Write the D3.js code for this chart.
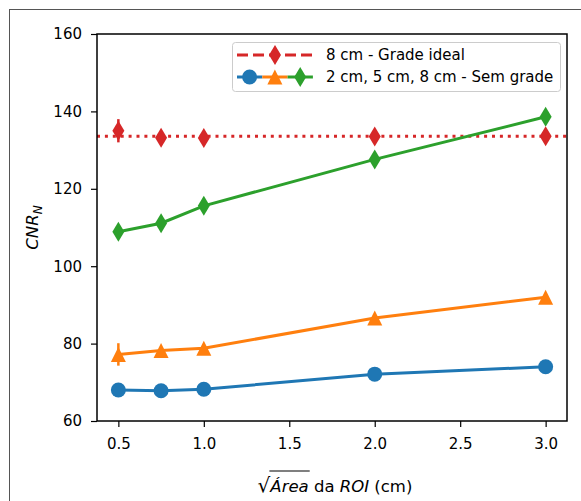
<!DOCTYPE html>
<html>
<head>
<meta charset="utf-8">
<script src="https://cdn.jsdelivr.net/npm/d3@7"></script>
<style>
body { margin: 0; background: #fff; }
text { font-family: "DejaVu Sans", sans-serif; }
</style>
</head>
<body>
<svg width="581" height="501"></svg>
<script>
// dados
var xVals = [0.5, 0.75, 1.0, 2.0, 3.0];
var semGrade2 = [68.0, 67.8, 68.2, 72.1, 74.0];
var semGrade5 = [77.2, 78.2, 78.8, 86.6, 92.0];
var semGrade8 = [108.9, 111.1, 115.6, 127.6, 138.6];
var gradeIdeal8 = [135.0, 133.2, 133.1, 133.5, 133.6];
var erroIdeal = [3.0, 0.8, 0.8, 0.8, 0.8];
var erro5 = [2.9, 0.6, 0.6, 0.6, 0.6];
var linhaIdeal = 133.6;
var xTicks = [0.5, 1.0, 1.5, 2.0, 2.5, 3.0];
var yTicks = [60, 80, 100, 120, 140, 160];
var legendaTextos = ["8 cm - Grade ideal", "2 cm, 5 cm, 8 cm - Sem grade"];

var azul = "#1f77b4", laranja = "#ff7f0e", verde = "#2ca02c", vermelho = "#d62728";

var svg = d3.select("svg"),
    margin = { top: 34, right: 14, bottom: 80, left: 97 },
    width = +svg.attr("width") - margin.left - margin.right,
    height = +svg.attr("height") - margin.top - margin.bottom;

// moldura externa (figura recortada)
svg.append("rect")
    .attr("x", 9.5).attr("y", 9.5)
    .attr("width", 700).attr("height", 700)
    .attr("fill", "none").attr("stroke", "#555").attr("stroke-width", 1);

var x = d3.scaleLinear().domain([0.375, 3.125]).range([0, width]),
    y = d3.scaleLinear().domain([60, 160]).range([height, 0]);

var g = svg.append("g")
    .attr("transform", "translate(" + margin.left + "," + margin.top + ")");

// marcadores
function losango(w, h) {
    return "M0," + (-h / 2) + "L" + (w / 2) + ",0L0," + (h / 2) + "L" + (-w / 2) + ",0Z";
}
function triangulo(s) {
    return "M0," + (-s / 2) + "L" + (s / 2) + "," + (s / 2) + "L" + (-s / 2) + "," + (s / 2) + "Z";
}

var linha = d3.line()
    .x(function (d) { return x(d[0]); })
    .y(function (d) { return y(d[1]); });

// linha pontilhada da grade ideal
g.append("line")
    .attr("x1", 0).attr("x2", width)
    .attr("y1", y(linhaIdeal)).attr("y2", y(linhaIdeal))
    .attr("stroke", vermelho).attr("stroke-width", 3)
    .attr("stroke-dasharray", "3,4.9");

var series = [
    { vals: semGrade2, cor: azul, tipo: "circulo", erro: null },
    { vals: semGrade5, cor: laranja, tipo: "triangulo", erro: erro5 },
    { vals: semGrade8, cor: verde, tipo: "losango", erro: null },
    { vals: gradeIdeal8, cor: vermelho, tipo: "losango", erro: erroIdeal, semLinha: true }
];

series.forEach(function (s) {
    var pts = xVals.map(function (xv, i) { return [xv, s.vals[i]]; });
    if (!s.semLinha) {
        g.append("path")
            .datum(pts)
            .attr("fill", "none")
            .attr("stroke", s.cor)
            .attr("stroke-width", 3)
            .attr("d", linha);
    }
    if (s.erro) {
        g.selectAll(null)
            .data(pts)
            .enter().append("line")
            .attr("x1", function (d) { return x(d[0]); })
            .attr("x2", function (d) { return x(d[0]); })
            .attr("y1", function (d, i) { return y(d[1] - s.erro[i]); })
            .attr("y2", function (d, i) { return y(d[1] + s.erro[i]); })
            .attr("stroke", s.cor).attr("stroke-width", 2.5);
    }
    var m = g.selectAll(null).data(pts).enter();
    if (s.tipo === "circulo") {
        m.append("circle")
            .attr("cx", function (d) { return x(d[0]); })
            .attr("cy", function (d) { return y(d[1]); })
            .attr("r", 7.5)
            .attr("fill", s.cor);
    } else {
        m.append("path")
            .attr("transform", function (d) { return "translate(" + x(d[0]) + "," + y(d[1]) + ")"; })
            .attr("d", s.tipo === "triangulo" ? triangulo(15) : losango(12, 20))
            .attr("fill", s.cor);
    }
});

// eixos
var eixoX = g.append("g")
    .attr("transform", "translate(0," + height + ")")
    .call(d3.axisBottom(x).tickValues(xTicks).tickFormat(d3.format(".1f")).tickSize(6).tickPadding(11));
var eixoY = g.append("g")
    .call(d3.axisLeft(y).tickValues(yTicks).tickSize(6).tickPadding(9));
[eixoX, eixoY].forEach(function (e) {
    e.select(".domain").remove();
    e.selectAll("text").attr("font-size", 15).attr("fill", "#000")
        .style("font-family", "'DejaVu Sans', sans-serif");
    e.selectAll("line").attr("stroke", "#000").attr("stroke-width", 1.2);
});

g.append("rect")
    .attr("width", width).attr("height", height)
    .attr("fill", "none").attr("stroke", "#000").attr("stroke-width", 1.5);

// titulo do eixo Y
var ty = g.append("text")
    .attr("transform", "translate(" + (38 - margin.left) + "," + (height / 2) + ") rotate(-90)")
    .attr("text-anchor", "middle")
    .attr("font-size", 16.5);
ty.append("tspan").attr("font-style", "italic").text("CNR");
ty.append("tspan").attr("font-style", "italic").attr("font-size", 12).attr("dy", 4).text("N");

// titulo do eixo X com raiz quadrada
var tx = g.append("text")
    .attr("x", width / 2 + 3)
    .attr("y", height + 71)
    .attr("text-anchor", "middle")
    .attr("font-size", 16.5);
tx.append("tspan").attr("font-size", 20).text("\u221A");
var area = tx.append("tspan").attr("font-style", "italic").text("\u00C1rea");
tx.append("tspan").text(" da ");
tx.append("tspan").attr("font-style", "italic").text("ROI");
tx.append("tspan").text(" (cm)");
var ini = area.node().getStartPositionOfChar(0).x,
    fim = area.node().getEndPositionOfChar(3).x;
g.append("line")
    .attr("x1", ini - 1).attr("x2", fim + 1)
    .attr("y1", height + 50).attr("y2", height + 50)
    .attr("stroke", "#000").attr("stroke-width", 1.2);

// legenda
var leg = svg.append("g").attr("transform", "translate(232,42)");
leg.append("rect")
    .attr("x", 0.5).attr("y", 0.5).attr("width", 328).attr("height", 49)
    .attr("rx", 3)
    .attr("fill", "#fff").attr("fill-opacity", 0.8)
    .attr("stroke", "#ccc").attr("stroke-width", 1);

leg.append("line")
    .attr("x1", 5).attr("x2", 81).attr("y1", 13).attr("y2", 13)
    .attr("stroke", vermelho).attr("stroke-width", 3).attr("stroke-dasharray", "11,5");
leg.append("path").attr("transform", "translate(43,13)").attr("d", losango(12, 20)).attr("fill", vermelho);

var partes = [
    { cor: azul, tipo: "circulo" },
    { cor: laranja, tipo: "triangulo" },
    { cor: verde, tipo: "losango" }
];
partes.forEach(function (p, i) {
    var x0 = 5 + i * 25.3, cx = x0 + 12.6;
    leg.append("line")
        .attr("x1", x0).attr("x2", x0 + 25.3).attr("y1", 35).attr("y2", 35)
        .attr("stroke", p.cor).attr("stroke-width", 3);
    if (p.tipo === "circulo") {
        leg.append("circle").attr("cx", cx).attr("cy", 35).attr("r", 7.5).attr("fill", p.cor);
    } else {
        leg.append("path")
            .attr("transform", "translate(" + cx + ",35)")
            .attr("d", p.tipo === "triangulo" ? triangulo(15) : losango(12, 20))
            .attr("fill", p.cor);
    }
});

leg.selectAll(".rotulo")
    .data(legendaTextos)
    .enter().append("text")
    .attr("class", "rotulo")
    .attr("x", 94)
    .attr("y", function (d, i) { return 13 + i * 22; })
    .attr("dy", "0.36em")
    .attr("font-size", 15)
    .text(function (d) { return d; });
</script>
</body>
</html>
